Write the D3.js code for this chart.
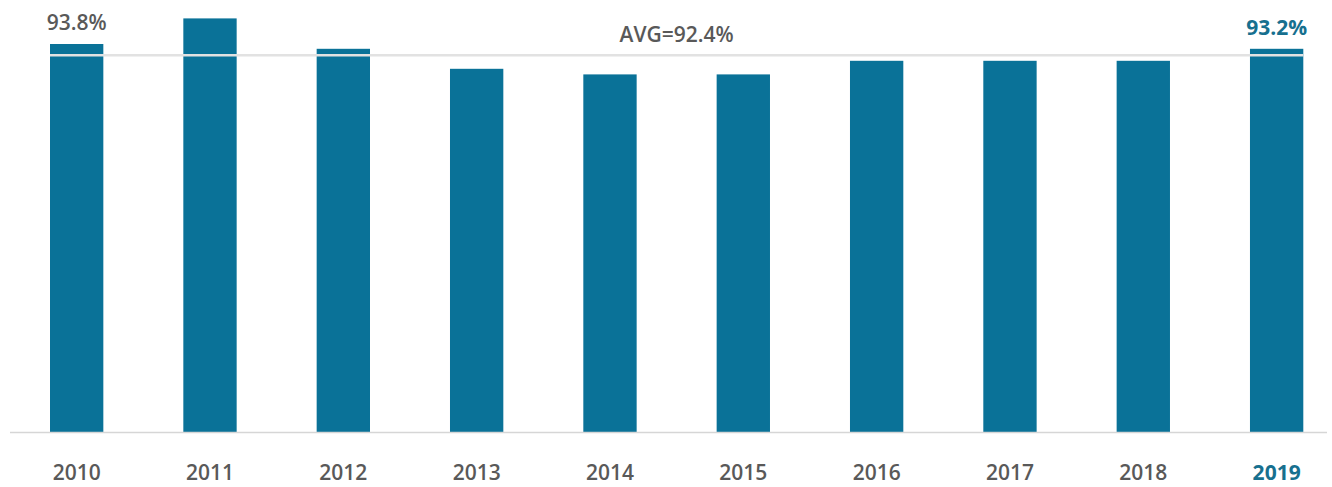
<!DOCTYPE html>
<html>
<head>
<meta charset="utf-8">
<script src="https://cdn.jsdelivr.net/npm/d3@7"></script>
<style>
  html, body { margin: 0; padding: 0; background: #fff; }
  svg { display: block; font-family: "Open Sans", "Noto Sans", sans-serif; }
</style>
</head>
<body>
<svg id="chart" width="1332" height="487"></svg>
<script>
const years = ["2010","2011","2012","2013","2014","2015","2016","2017","2018","2019"];
const values = [93.8, 97.0, 93.2, 90.7, 90.0, 90.0, 91.7, 91.7, 91.7, 93.2];
const labelledYears = ["2010", "2019"];
const highlightYear = "2019";
const avgValue = 92.4;
const avgLabel = "AVG=92.4%";

const svg = d3.select("#chart");
const baseY = 432;

const x = d3.scaleBand()
  .domain(years)
  .range([10, 1343.3])
  .paddingInner(0.6)
  .paddingOuter(0.3);

const y = d3.scaleLinear()
  .domain([45.3, 98.3])
  .range([baseY, 8]);

const barColor = "#0a7298";
const grayText = "#595959";
const teal = "#17708f";

// bars
svg.append("g").selectAll("rect")
  .data(years)
  .join("rect")
  .attr("x", d => x(d))
  .attr("width", x.bandwidth())
  .attr("y", (d, i) => y(values[i]))
  .attr("height", (d, i) => baseY - y(values[i]))
  .attr("fill", barColor);

// baseline
svg.append("line")
  .attr("x1", 10).attr("x2", 1327)
  .attr("y1", baseY + 0.5).attr("y2", baseY + 0.5)
  .attr("stroke", "#d6d6d6").attr("stroke-width", 1.5);

// average line
const avgY = y(avgValue);
svg.append("line")
  .attr("x1", x(years[0])).attr("x2", x(years[years.length - 1]) + x.bandwidth())
  .attr("y1", avgY).attr("y2", avgY)
  .attr("stroke", "#e2e2e2").attr("stroke-width", 2.5);

// avg label centred between middle bars
const midX = (x(years[4]) + x(years[5]) + x.bandwidth()) / 2;
svg.append("text")
  .attr("x", midX)
  .attr("y", avgY - 13)
  .attr("text-anchor", "middle")
  .attr("font-size", 21)
  .attr("font-weight", 600)
  .attr("fill", grayText)
  .text(avgLabel);

// value labels
svg.append("g").selectAll("text")
  .data(years.filter(d => labelledYears.includes(d)))
  .join("text")
  .attr("x", d => x(d) + x.bandwidth() / 2)
  .attr("y", d => y(values[years.indexOf(d)]) - 14)
  .attr("text-anchor", "middle")
  .attr("font-size", 21)
  .attr("font-weight", d => d === highlightYear ? 700 : 600)
  .attr("fill", d => d === highlightYear ? teal : grayText)
  .text(d => values[years.indexOf(d)].toFixed(1) + "%");

// x axis
const xAxis = svg.append("g")
  .attr("transform", `translate(0, ${baseY})`)
  .call(d3.axisBottom(x).tickSize(0).tickPadding(33));
xAxis.select(".domain").remove();
xAxis.selectAll("text")
  .attr("font-size", 21)
  .attr("font-family", "\"Open Sans\", \"Noto Sans\", sans-serif")
  .attr("font-weight", d => d === highlightYear ? 700 : 600)
  .attr("fill", d => d === highlightYear ? teal : grayText);
</script>
</body>
</html>
